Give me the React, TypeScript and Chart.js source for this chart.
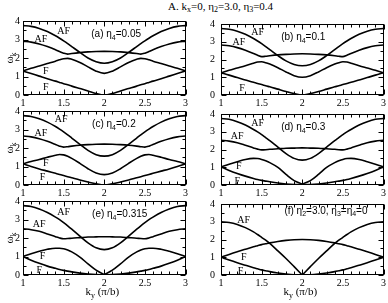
import React, { useEffect, useRef } from "react";
import { Chart, registerables } from "chart.js";
Chart.register(...registerables);

// ---------- data ----------
const KY = [1, 1.1, 1.2, 1.3, 1.4, 1.45, 1.5, 1.55, 1.6, 1.7, 1.8, 1.9, 2, 2.1, 2.2, 2.3, 2.4, 2.45, 2.5, 2.55, 2.6, 2.7, 2.8, 2.9, 3];
const X_TICKS = [1, 1.5, 2, 2.5, 3];
const Y_TICKS = [0, 1, 2, 3, 4];

// (a) eta4 = 0.05
const A_AF1 = [3.75, 3.71, 3.6, 3.43, 3.2, 3.07, 2.93, 2.78, 2.62, 2.3, 2.0, 1.8, 1.72, 1.8, 2.0, 2.3, 2.62, 2.78, 2.93, 3.07, 3.2, 3.43, 3.6, 3.71, 3.75];
const A_AF2 = [2.9, 2.86, 2.76, 2.62, 2.45, 2.35, 2.26, 2.21, 2.24, 2.29, 2.33, 2.35, 2.36, 2.35, 2.33, 2.29, 2.24, 2.21, 2.26, 2.35, 2.45, 2.62, 2.76, 2.86, 2.9];
const A_F1 = [1.3, 1.44, 1.57, 1.7, 1.83, 1.9, 1.96, 1.98, 1.93, 1.76, 1.52, 1.29, 1.17, 1.29, 1.52, 1.76, 1.93, 1.98, 1.96, 1.9, 1.83, 1.7, 1.57, 1.44, 1.3];
const A_F2 = [1.3, 1.16, 1.02, 0.88, 0.75, 0.68, 0.61, 0.55, 0.48, 0.35, 0.22, 0.08, 0, 0.08, 0.22, 0.35, 0.48, 0.55, 0.61, 0.68, 0.75, 0.88, 1.02, 1.16, 1.3];

// (b) eta4 = 0.1
const B_AF1 = [3.75, 3.7, 3.59, 3.42, 3.18, 3.04, 2.89, 2.73, 2.56, 2.22, 1.92, 1.72, 1.65, 1.72, 1.92, 2.22, 2.56, 2.73, 2.89, 3.04, 3.18, 3.42, 3.59, 3.7, 3.75];
const B_AF2 = [2.82, 2.77, 2.67, 2.52, 2.34, 2.24, 2.16, 2.18, 2.21, 2.26, 2.29, 2.31, 2.32, 2.31, 2.29, 2.26, 2.21, 2.18, 2.16, 2.24, 2.34, 2.52, 2.67, 2.77, 2.82];
const B_F1 = [1.25, 1.39, 1.52, 1.65, 1.79, 1.86, 1.87, 1.82, 1.74, 1.54, 1.3, 1.09, 1.0, 1.09, 1.3, 1.54, 1.74, 1.82, 1.87, 1.86, 1.79, 1.65, 1.52, 1.39, 1.25];
const B_F2 = [1.25, 1.12, 0.98, 0.85, 0.72, 0.65, 0.59, 0.52, 0.46, 0.33, 0.2, 0.08, 0, 0.08, 0.2, 0.33, 0.46, 0.52, 0.59, 0.65, 0.72, 0.85, 0.98, 1.12, 1.25];

// (c) eta4 = 0.2
const C_AF1 = [3.75, 3.7, 3.58, 3.4, 3.16, 3.02, 2.87, 2.71, 2.54, 2.2, 1.87, 1.64, 1.56, 1.64, 1.87, 2.2, 2.54, 2.71, 2.87, 3.02, 3.16, 3.4, 3.58, 3.7, 3.75];
const C_AF2 = [2.65, 2.6, 2.5, 2.36, 2.19, 2.1, 2.05, 2.07, 2.1, 2.15, 2.18, 2.2, 2.21, 2.2, 2.18, 2.15, 2.1, 2.07, 2.05, 2.1, 2.19, 2.36, 2.5, 2.6, 2.65];
const C_F1 = [1.15, 1.27, 1.38, 1.5, 1.61, 1.65, 1.63, 1.55, 1.44, 1.17, 0.88, 0.65, 0.56, 0.65, 0.88, 1.17, 1.44, 1.55, 1.63, 1.65, 1.61, 1.5, 1.38, 1.27, 1.15];
const C_F2 = [1.15, 1.0, 0.87, 0.75, 0.63, 0.57, 0.51, 0.45, 0.39, 0.27, 0.16, 0.06, 0, 0.06, 0.16, 0.27, 0.39, 0.45, 0.51, 0.57, 0.63, 0.75, 0.87, 1.0, 1.15];

// (d) eta4 = 0.3
const D_AF1 = [3.75, 3.7, 3.57, 3.38, 3.13, 2.99, 2.84, 2.67, 2.5, 2.13, 1.77, 1.5, 1.4, 1.5, 1.77, 2.13, 2.5, 2.67, 2.84, 2.99, 3.13, 3.38, 3.57, 3.7, 3.75];
const D_AF2 = [2.52, 2.47, 2.38, 2.24, 2.09, 2.02, 1.98, 1.99, 2.01, 2.04, 2.07, 2.08, 2.09, 2.08, 2.07, 2.04, 2.01, 1.99, 1.98, 2.02, 2.09, 2.24, 2.38, 2.47, 2.52];
const D_F1 = [1.02, 1.17, 1.31, 1.44, 1.5, 1.49, 1.44, 1.36, 1.26, 0.99, 0.6, 0.25, 0.05, 0.25, 0.6, 0.99, 1.26, 1.36, 1.44, 1.49, 1.5, 1.44, 1.31, 1.17, 1.02];
const D_F2 = [1.02, 0.82, 0.65, 0.5, 0.37, 0.31, 0.26, 0.22, 0.18, 0.11, 0.06, 0.03, 0.02, 0.03, 0.06, 0.11, 0.18, 0.22, 0.26, 0.31, 0.37, 0.5, 0.65, 0.82, 1.02];

// (e) eta4 = 0.315
const E_AF1 = [3.75, 3.7, 3.57, 3.38, 3.13, 2.99, 2.83, 2.66, 2.48, 2.1, 1.74, 1.47, 1.37, 1.47, 1.74, 2.1, 2.48, 2.66, 2.83, 2.99, 3.13, 3.38, 3.57, 3.7, 3.75];
const E_AF2 = [2.5, 2.45, 2.36, 2.22, 2.07, 2.0, 1.96, 1.97, 1.99, 2.02, 2.05, 2.06, 2.07, 2.06, 2.05, 2.02, 1.99, 1.97, 1.96, 2.0, 2.07, 2.22, 2.36, 2.45, 2.5];
const E_F1 = [1.0, 1.15, 1.28, 1.39, 1.45, 1.45, 1.42, 1.35, 1.25, 0.97, 0.6, 0.26, 0.02, 0.26, 0.6, 0.97, 1.25, 1.35, 1.42, 1.45, 1.45, 1.39, 1.28, 1.15, 1.0];
const E_F2 = [1.0, 0.8, 0.63, 0.48, 0.36, 0.3, 0.25, 0.21, 0.17, 0.1, 0.05, 0.02, 0.01, 0.02, 0.05, 0.1, 0.17, 0.21, 0.25, 0.3, 0.36, 0.48, 0.63, 0.8, 1.0];

// (f) eta2 = 3.0, eta3 = eta4 = 0
const F_AF = [3.0, 2.96, 2.85, 2.67, 2.43, 2.28, 2.12, 1.96, 1.78, 1.36, 0.93, 0.47, 0, 0.47, 0.93, 1.36, 1.78, 1.96, 2.12, 2.28, 2.43, 2.67, 2.85, 2.96, 3.0];
const F_F1 = [1.0, 1.16, 1.31, 1.45, 1.59, 1.65, 1.71, 1.76, 1.81, 1.89, 1.95, 1.99, 2.0, 1.99, 1.95, 1.89, 1.81, 1.76, 1.71, 1.65, 1.59, 1.45, 1.31, 1.16, 1.0];
const F_F2 = [1.0, 0.84, 0.69, 0.55, 0.41, 0.35, 0.29, 0.24, 0.19, 0.11, 0.05, 0.01, 0, 0.01, 0.05, 0.11, 0.19, 0.24, 0.29, 0.35, 0.41, 0.55, 0.69, 0.84, 1.0];

// ---------- text ----------
type Seg = { t: string; sub?: boolean };
const TITLE = "A. k";
const TAG_A: Seg[] = [{ t: "(a) η" }, { t: "4", sub: true }, { t: "=0.05" }];
const TAG_B: Seg[] = [{ t: "(b) η" }, { t: "4", sub: true }, { t: "=0.1" }];
const TAG_C: Seg[] = [{ t: "(c) η" }, { t: "4", sub: true }, { t: "=0.2" }];
const TAG_D: Seg[] = [{ t: "(d) η" }, { t: "4", sub: true }, { t: "=0.3" }];
const TAG_E: Seg[] = [{ t: "(e) η" }, { t: "4", sub: true }, { t: "=0.315" }];
const TAG_F: Seg[] = [{ t: "(f) η" }, { t: "2", sub: true }, { t: "=3.0, η" }, { t: "3", sub: true }, { t: "=η" }, { t: "4", sub: true }, { t: "=0" }];
const Y_TITLE: Seg[] = [{ t: "ω" }, { t: "k", sub: true }];
const X_TITLE: Seg[] = [{ t: "k" }, { t: "y", sub: true }, { t: " (π/b)" }];

const SERIF = '"Liberation Serif", "Times New Roman", serif';
const SANS = '"Liberation Sans", Arial, sans-serif';

type Lbl = { text: string; x: number; y: number };
type PanelCfg = {
  series: number[][];
  sharp: number[];
  labels: Lbl[];
  tag: Seg[];
  tagAt: [number, number];
  col: number;
  row: number;
};

const PANELS: PanelCfg[] = [
  {
    series: [A_AF1, A_AF2, A_F1, A_F2], sharp: [], tag: TAG_A, tagAt: [1.84, 3.3], col: 0, row: 0,
    labels: [{ text: "AF", x: 1.5, y: 3.47 }, { text: "AF", x: 1.22, y: 3.05 }, { text: "F", x: 1.28, y: 1.33 }, { text: "F", x: 1.28, y: 0.48 }],
  },
  {
    series: [B_AF1, B_AF2, B_F1, B_F2], sharp: [], tag: TAG_B, tagAt: [1.74, 3.3], col: 1, row: 0,
    labels: [{ text: "AF", x: 1.45, y: 3.56 }, { text: "AF", x: 1.22, y: 3.04 }, { text: "F", x: 1.26, y: 0.42 }],
  },
  {
    series: [C_AF1, C_AF2, C_F1, C_F2], sharp: [], tag: TAG_C, tagAt: [1.85, 3.3], col: 0, row: 1,
    labels: [{ text: "AF", x: 1.47, y: 3.57 }, { text: "AF", x: 1.22, y: 2.84 }, { text: "F", x: 1.28, y: 1.19 }, { text: "F", x: 1.24, y: 0.44 }],
  },
  {
    series: [D_AF1, D_AF2, D_F1, D_F2], sharp: [2], tag: TAG_D, tagAt: [1.74, 3.3], col: 1, row: 1,
    labels: [{ text: "AF", x: 1.45, y: 3.52 }, { text: "AF", x: 1.2, y: 2.8 }, { text: "F", x: 1.22, y: 1.12 }, { text: "F", x: 1.2, y: 0.27 }],
  },
  {
    series: [E_AF1, E_AF2, E_F1, E_F2], sharp: [2], tag: TAG_E, tagAt: [1.85, 3.3], col: 0, row: 2,
    labels: [{ text: "AF", x: 1.5, y: 3.43 }, { text: "AF", x: 1.2, y: 2.77 }, { text: "F", x: 1.24, y: 1.07 }, { text: "F", x: 1.2, y: 0.32 }],
  },
  {
    series: [F_AF, F_F1, F_F2], sharp: [0], tag: TAG_F, tagAt: [1.78, 3.66], col: 1, row: 2,
    labels: [{ text: "AF", x: 1.28, y: 3.1 }, { text: "F", x: 1.28, y: 1.07 }, { text: "F", x: 1.24, y: 0.27 }],
  },
];

// ---------- layout ----------
const COLS = [
  { left: 0, width: 190, yAxisW: 23, padRight: 4, tickPad: 3, yTitle: true },
  { left: 190, width: 198, yAxisW: 31, padRight: 3, tickPad: 6, yTitle: false },
];
const ROWS = [
  { top: 12, height: 97, xAxisH: 14, xTitle: false },
  { top: 102, height: 97, xAxisH: 14, xTitle: false },
  { top: 192, height: 111, xAxisH: 28, xTitle: true },
];

function drawRich(ctx: CanvasRenderingContext2D, segs: Seg[], x: number, cy: number, family: string, size: number, align: "left" | "center") {
  const subSize = Math.round(size * 0.72);
  let w = 0;
  for (const s of segs) {
    ctx.font = `${s.sub ? subSize : size}px ${family}`;
    w += ctx.measureText(s.t).width;
  }
  let cx = align === "center" ? x - w / 2 : x;
  const base = cy + size * 0.35;
  ctx.textAlign = "left";
  ctx.textBaseline = "alphabetic";
  for (const s of segs) {
    ctx.font = `${s.sub ? subSize : size}px ${family}`;
    ctx.fillText(s.t, cx, base + (s.sub ? size * 0.28 : 0));
    cx += ctx.measureText(s.t).width;
  }
}

function makeDecor(p: PanelCfg) {
  const col = COLS[p.col];
  const row = ROWS[p.row];
  return {
    id: "decor",
    afterDraw(chart: any) {
      const { ctx, chartArea: a, scales } = chart;
      const xs = scales.x;
      const ys = scales.y;
      ctx.save();
      ctx.strokeStyle = "#000";
      ctx.fillStyle = "#000";
      ctx.lineWidth = 1;
      const L = Math.round(a.left) + 0.5;
      const R = Math.round(a.right) - 0.5;
      const T = Math.round(a.top) + 0.5;
      const B = Math.round(a.bottom) - 0.5;
      ctx.strokeRect(L, T, R - L, B - T);
      const line = (x1: number, y1: number, x2: number, y2: number) => {
        ctx.beginPath();
        ctx.moveTo(x1, y1);
        ctx.lineTo(x2, y2);
        ctx.stroke();
      };
      for (let i = 0; i <= 20; i++) {
        const v = X_TICKS[0] + i * 0.1;
        const px = Math.round(xs.getPixelForValue(v)) + 0.5;
        const len = i % 5 === 0 ? 5 : 3;
        line(px, B, px, B - len);
        line(px, T, px, T + len);
      }
      for (let i = 0; i <= 8; i++) {
        const v = Y_TICKS[0] + i * 0.5;
        const py = Math.round(ys.getPixelForValue(v)) + 0.5;
        const len = i % 2 === 0 ? 5 : 3;
        line(L, py, L + len, py);
        line(R, py, R - len, py);
      }
      for (const l of p.labels) {
        drawRich(ctx, [{ t: l.text }], xs.getPixelForValue(l.x), ys.getPixelForValue(l.y), SERIF, 10, "center");
      }
      drawRich(ctx, p.tag, xs.getPixelForValue(p.tagAt[0]), ys.getPixelForValue(p.tagAt[1]), SANS, 10, "left");
      if (col.yTitle) {
        ctx.save();
        ctx.translate(9, (a.top + a.bottom) / 2);
        ctx.rotate(-Math.PI / 2);
        drawRich(ctx, Y_TITLE, 0, 0, SERIF, 11, "center");
        ctx.restore();
      }
      if (row.xTitle) {
        drawRich(ctx, X_TITLE, (a.left + a.right) / 2 - 2, a.bottom + 16, SERIF, 11, "center");
      }
      ctx.restore();
    },
  };
}

function Panel({ p }: { p: PanelCfg }) {
  const ref = useRef<HTMLCanvasElement>(null);
  const col = COLS[p.col];
  const row = ROWS[p.row];
  useEffect(() => {
    const datasets: any[] = [];
    p.series.forEach((s, i) => {
      const pts = KY.map((x, j) => ({ x, y: s[j] }));
      const mid = KY.indexOf(2);
      const parts = p.sharp.includes(i) ? [pts.slice(0, mid + 1), pts.slice(mid)] : [pts];
      for (const d of parts) {
        datasets.push({
          data: d,
          borderColor: "#000",
          borderWidth: 1.6,
          pointRadius: 0,
          fill: false,
          cubicInterpolationMode: "monotone",
        });
      }
    });
    const tickFont = { family: SERIF, size: 10 };
    const chart = new Chart(ref.current as HTMLCanvasElement, {
      type: "line",
      data: { datasets },
      options: {
        responsive: false,
        animation: false,
        devicePixelRatio: 1,
        events: [],
        layout: { padding: { top: 8, right: col.padRight, left: 0, bottom: 0 } },
        plugins: { legend: { display: false }, tooltip: { enabled: false }, title: { display: false } },
        scales: {
          x: {
            type: "linear",
            min: X_TICKS[0],
            max: X_TICKS[X_TICKS.length - 1],
            grid: { display: false, drawTicks: false, tickLength: 0 },
            border: { display: false },
            afterBuildTicks: (s: any) => {
              s.ticks = X_TICKS.map((v) => ({ value: v }));
            },
            ticks: {
              padding: 2,
              color: "#000",
              font: tickFont,
              maxRotation: 0,
              autoSkip: false,
              callback: (v: any) => String(+Number(v).toFixed(2)),
            },
            afterFit: (s: any) => {
              s.height = row.xAxisH;
            },
          },
          y: {
            type: "linear",
            min: Y_TICKS[0],
            max: Y_TICKS[Y_TICKS.length - 1],
            grid: { display: false, drawTicks: false, tickLength: 0 },
            border: { display: false },
            afterBuildTicks: (s: any) => {
              s.ticks = Y_TICKS.map((v) => ({ value: v }));
            },
            ticks: {
              padding: col.tickPad,
              color: "#000",
              font: tickFont,
              autoSkip: false,
              callback: (v: any) => String(+Number(v).toFixed(2)),
            },
            afterFit: (s: any) => {
              s.width = col.yAxisW;
            },
          },
        },
      } as any,
      plugins: [makeDecor(p)],
    });
    return () => chart.destroy();
  }, []);
  return (
    <canvas
      ref={ref}
      width={col.width}
      height={row.height}
      style={{ position: "absolute", left: col.left, top: row.top, width: col.width, height: row.height }}
    />
  );
}

const subStyle: React.CSSProperties = { fontSize: 8, verticalAlign: "baseline", position: "relative", top: 2 };

export default function App() {
  return (
    <div style={{ position: "fixed", left: 0, top: 0, width: 388, height: 303, background: "#fff", overflow: "hidden" }}>
      <div
        style={{
          position: "absolute",
          left: 168,
          top: 0,
          fontFamily: SERIF,
          fontSize: 11,
          lineHeight: "12px",
          whiteSpace: "nowrap",
          color: "#000",
        }}
      >
        {TITLE}
        <span style={subStyle}>x</span>=0, η<span style={subStyle}>2</span>=3.0, η<span style={subStyle}>3</span>=0.4
      </div>
      {PANELS.map((p, i) => (
        <Panel key={i} p={p} />
      ))}
    </div>
  );
}
